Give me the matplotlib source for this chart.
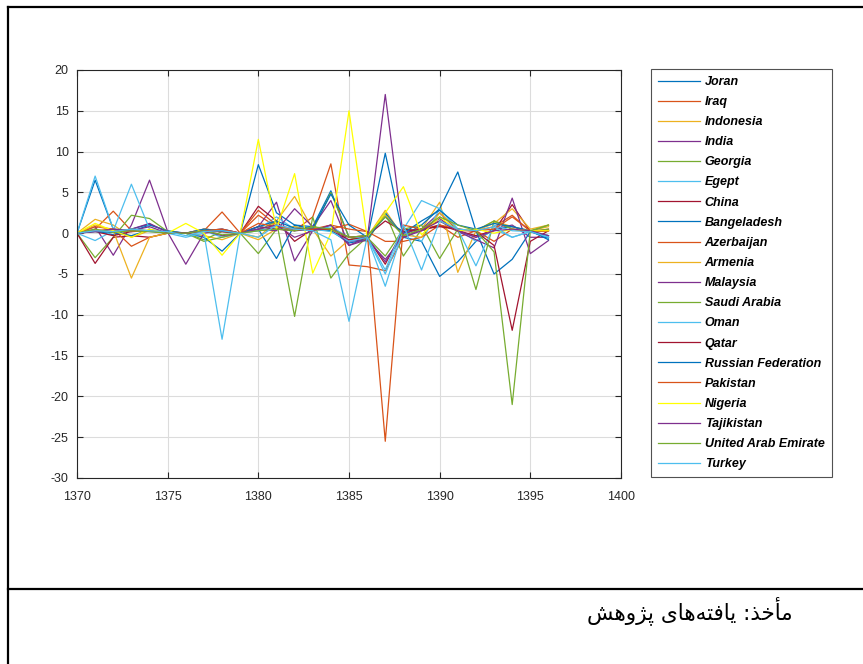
import matplotlib
matplotlib.use("Agg")
import matplotlib.pyplot as plt
from matplotlib.lines import Line2D
import numpy as np

plt.rcParams["axes.unicode_minus"] = False

years = list(range(1370, 1397))

countries = ["Joran", "Iraq", "Indonesia", "India", "Georgia", "Egept", "China",
             "Bangeladesh", "Azerbaijan", "Armenia", "Malaysia", "Saudi Arabia",
             "Oman", "Qatar", "Russian Federation", "Pakistan", "Nigeria",
             "Tajikistan", "United Arab Emirate", "Turkey"]

#            1370 71   72   73   74   75   76   77   78   79   80   81   82    83   84   85    86   87    88   89   90   91   92   93   94    95   96
joran      = [0, 6.5, 0.5, 0.2, 1.0, 0.3, 0.0, 0.3, 0.5, 0.0, 8.4, 2.5, 1.0, 0.8, 5.2, -0.5, -0.8, 9.8, -0.5, -1.0, -5.3, -3.5, -1.0, 0.5, 0.8, 0.2, -0.3]
iraq       = [0, 0.5, 2.7, 0.3, 0.2, 0.1, 0.0, 0.4, 0.2, 0.0, 2.2, 0.8, 0.3, 2.0, 8.5, -3.9, -4.1, -4.6, -0.5, 0.5, 1.0, -0.5, 0.3, 0.8, 2.2, 0.2, 0.3]
indonesia  = [0, 1.7, 1.0, -0.5, 0.3, 0.0, 0.0, -0.3, -0.8, 0.0, -0.5, 1.5, 4.5, 0.5, -2.8, -0.8, -0.5, 2.8, -0.5, 0.5, 3.8, -4.8, 0.3, 1.5, 0.8, 0.3, 0.8]
india      = [0, 0.8, -2.7, 1.0, 6.5, 0.2, 0.0, 0.3, 0.5, 0.0, 0.8, 3.8, -3.4, 0.3, 1.0, -1.0, -0.8, -3.2, -0.5, 0.5, 2.5, 0.3, -0.5, 0.5, 1.0, -0.5, -0.5]
georgia    = [0, -3.0, -0.5, 2.2, 1.8, 0.2, 0.0, -0.8, 0.2, 0.0, -2.5, 0.5, 0.8, 0.3, 5.0, -0.5, -1.0, 2.5, -2.8, 0.5, 1.5, 0.5, 0.3, 1.5, 0.5, 0.2, 1.0]
egept      = [0, 7.0, 0.5, 0.3, 0.2, 0.0, 0.0, 0.3, -0.5, 0.0, 0.5, 2.0, 0.5, 0.3, 0.8, -0.5, -0.5, -5.0, 0.5, -1.0, 3.0, 0.5, -1.0, 0.5, -0.5, 0.2, -0.3]
china      = [0, -3.7, -0.5, -0.3, -0.5, 0.0, 0.0, 0.5, 0.3, 0.0, 3.3, 1.5, -1.0, 0.5, 0.3, -0.8, -0.5, -3.8, 0.5, 0.3, 1.0, 0.3, -0.3, 0.3, 3.5, 0.2, 0.3]
bangla     = [0, 0.3, -0.2, 0.5, 1.1, 0.2, 0.0, -0.5, -2.2, 0.0, 0.5, -3.1, 1.0, 0.5, 0.3, -1.2, -0.8, 2.5, -0.3, 1.0, 3.0, 7.5, 0.3, -5.0, -3.2, 0.2, -0.6]
azerbaijan = [0, 0.8, 0.5, -1.6, -0.5, 0.0, 0.0, 0.3, 2.6, 0.0, 2.8, 1.0, 0.5, 0.3, 0.5, 1.1, 0.2, -1.0, -1.0, -0.5, 1.0, 0.5, 0.3, -1.0, 0.5, 0.2, 0.5]
armenia    = [0, 1.0, 0.3, -5.5, -0.5, 0.0, 0.0, 0.5, 0.3, 0.0, -0.8, 0.5, 0.8, 0.3, 0.5, -0.5, -0.3, 2.2, -0.2, -0.5, 2.5, 0.5, 0.3, 1.2, 3.0, 0.5, 1.0]
malaysia   = [0, 0.3, 0.2, 0.5, 1.2, 0.1, -3.8, 0.0, 0.3, 0.0, 0.5, 0.3, 3.0, 0.8, 4.0, -1.5, -0.5, -3.5, 0.0, 0.5, 1.8, 0.2, -0.8, -1.8, 4.3, -2.5, -0.9]
saudi      = [0, 0.3, 0.2, 0.5, 0.3, 0.0, 0.0, -1.0, -0.5, 0.0, 0.3, 1.5, -10.2, 2.0, -5.5, -2.5, -0.5, -2.8, 0.5, 1.0, -3.1, 0.5, -6.9, 1.5, 0.5, 0.2, 0.5]
oman       = [0, -0.9, 0.3, 6.0, 0.5, 0.0, -0.5, 0.0, -13.0, 0.0, 0.3, 0.8, 0.3, 0.5, 0.2, -1.0, -0.5, -6.5, 0.5, 4.0, 3.0, 0.5, -4.0, 1.0, 0.3, 0.2, -0.5]
qatar      = [0, 0.2, -0.3, 0.2, 0.3, 0.0, 0.0, 0.2, 0.2, 0.0, 0.8, 0.5, 0.3, 0.5, 0.5, -0.5, -0.3, 1.5, 0.2, 0.5, 0.8, 0.5, 0.2, -1.5, -11.9, -1.0, 0.3]
russia     = [0, 0.2, 0.1, -0.3, 0.4, 0.1, 0.0, 0.5, 0.3, 0.0, 0.8, 1.5, 0.6, 0.6, 4.8, 1.0, -0.5, 2.0, 0.0, 1.5, 2.8, 1.0, 0.5, 1.2, 0.8, 0.3, -0.8]
pakistan   = [0, 0.3, 0.5, 0.2, 0.3, 0.0, 0.0, 0.3, 0.5, 0.0, 1.2, 0.8, 0.5, 0.5, 1.0, 0.5, 0.2, -25.5, 1.0, 0.5, 1.5, 0.3, 0.3, 0.5, 2.0, 0.3, 0.3]
nigeria    = [0, 1.2, 0.3, -0.5, 0.5, 0.0, 1.2, 0.0, -2.7, 0.0, 11.5, 0.5, 7.3, -4.9, 0.0, 15.0, -0.5, 2.5, 5.7, -0.2, 2.0, 0.3, 0.5, 0.0, 0.5, 0.3, 0.3]
tajikistan = [0, 0.2, 0.5, 0.3, 0.8, 0.0, 0.0, 0.3, -0.3, 0.0, 0.5, 1.0, -0.5, 0.3, 1.0, -1.5, -0.8, 17.0, -0.5, 0.3, 1.5, 0.3, -0.5, 0.3, 0.5, 0.3, -0.3]
uae        = [0, 0.5, 0.1, 0.3, 0.2, 0.0, 0.0, 0.3, -0.2, 0.0, 0.3, 0.5, 0.3, 0.8, 0.5, -0.5, -0.3, 2.0, -0.3, 0.5, 2.0, 1.0, 0.3, -2.3, -21.0, 0.3, 1.0]
turkey     = [0, 0.3, 0.2, 0.5, 0.3, 0.2, -0.3, 0.2, 0.3, 0.0, -0.5, 1.0, 0.5, 0.3, -0.8, -10.8, -0.5, -4.5, 1.0, -4.5, 1.5, 0.5, 0.3, 0.8, -0.5, 0.2, -0.5]

series = [joran, iraq, indonesia, india, georgia, egept, china, bangla, azerbaijan,
          armenia, malaysia, saudi, oman, qatar, russia, pakistan, nigeria,
          tajikistan, uae, turkey]

matlab = ["#0072BD", "#D95319", "#EDB120", "#7E2F8E", "#77AC30", "#4DBEEE", "#A2142F"]
colors = [matlab[i % 7] for i in range(len(countries))]
colors[16] = "#FFFF00"

W, H = 863, 664
fig = plt.figure(figsize=(W / 100, H / 100), dpi=100)

# outer frame lines
fig.add_artist(Line2D([8 / W, 1], [1 - 7 / H, 1 - 7 / H], color="black", lw=1.6))
fig.add_artist(Line2D([8 / W, 8 / W], [0, 1 - 7 / H], color="black", lw=1.6))
fig.add_artist(Line2D([8 / W, 1], [1 - 589 / H, 1 - 589 / H], color="black", lw=1.6))

ax = fig.add_axes([77 / W, 1 - 478 / H, (621 - 77) / W, (478 - 70) / H])
for name, vals, c in zip(countries, series, colors):
    ax.plot(years, vals, color=c, lw=0.9, label=name)

ax.set_xlim(1370, 1400)
ax.set_ylim(-30, 20)
ax.set_xticks(range(1370, 1401, 5))
ax.set_yticks(range(-30, 21, 5))
ax.grid(True, color="#dcdcdc", lw=0.8)
ax.set_axisbelow(True)
ax.tick_params(direction="in", top=True, right=True, labelsize=9, length=4,
               color="#262626", labelcolor="#262626")
ax.tick_params(axis="x", pad=9)
ax.tick_params(axis="y", pad=6)
for s in ax.spines.values():
    s.set_color("#262626")
    s.set_linewidth(0.8)
for lab in ax.get_xticklabels() + ax.get_yticklabels():
    lab.set_family("Liberation Sans")

leg = fig.legend(loc="upper left", bbox_to_anchor=(651 / W, 1 - 69 / H),
                 frameon=True, fancybox=False, edgecolor="#262626",
                 prop={"family": "Liberation Sans", "weight": "bold",
                       "style": "italic", "size": 9},
                 handlelength=3.4, handletextpad=0.35, labelspacing=0.65,
                 borderpad=0.55, borderaxespad=0)
leg.get_frame().set_linewidth(0.8)

# Persian source note, pre-shaped (presentation forms, visual order)
source_text = "\uFEB6\uFEEB\uFEED\uFB8B\uFB58 \uFBFC\uFE8E\uFEEB\uFEEA\uFE98\uFED3\uFE8E\uFBFE :\uFEAC\uFEA7\uFE84\uFEE3"
fig.text(690 / W, 1 - 611 / H, source_text, ha="center", va="center",
         fontsize=15.5, family=["DejaVu Sans"])

fig.savefig("out.png", dpi=100)
